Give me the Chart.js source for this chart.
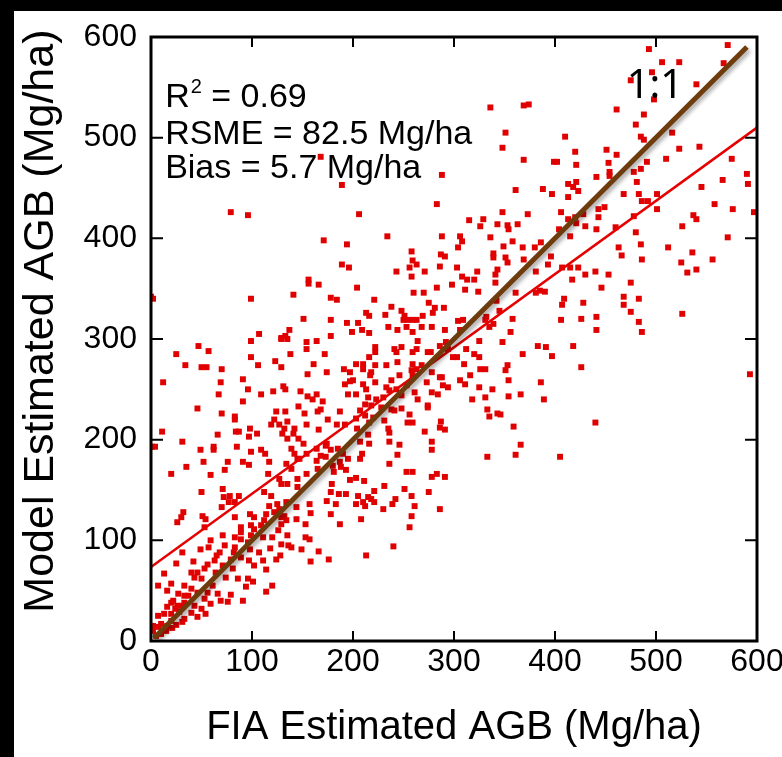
<!DOCTYPE html>
<html>
<head>
<meta charset="utf-8">
<title>Model vs FIA AGB</title>
<script src="https://cdn.jsdelivr.net/npm/chart.js@4.4.1/dist/chart.umd.min.js"></script>
<style>
  html, body { margin: 0; padding: 0; background: #000; }
  #frame { position: absolute; left: 14px; top: 11px; width: 768px; height: 746px; background: #fff; }
</style>
</head>
<body>
<div id="frame"><canvas id="agbChart" width="768" height="746"></canvas></div>
<script>
// plot samples: [FIA AGB, model AGB] in Mg/ha
const plots = [
  [493,588],[506,575],[523,575],[571,592],[567,574],[496,565],[475,557],[540,553],[498,538],[461,528],
  [488,523],[480,513],[410,501],[485,501],[488,498],[516,505],[420,486],[451,488],[461,483],[543,491],
  [523,489],[402,476],[421,473],[453,475],[491,476],[510,479],[575,479],[454,466],[454,462],[441,461],
  [478,466],[485,469],[413,454],[421,456],[418,451],[423,447],[481,456],[566,458],[590,464],[591,454],
  [413,441],[468,444],[483,444],[501,444],[545,451],[486,437],[492,437],[558,434],[406,426],[443,429],
  [449,431],[501,429],[576,429],[597,426],[413,419],[420,421],[428,424],[443,421],[478,422],[537,423],
  [540,419],[404,409],[421,415],[430,412],[441,409],[460,411],[526,412],[415,402],[480,406],[571,401],
  [463,391],[485,394],[512,391],[536,386],[466,383],[486,379],[556,379],[525,376],[407,371],[415,371],
  [423,371],[417,359],[430,364],[440,367],[453,364],[531,366],[540,369],[475,356],[446,351],[409,340],
  [468,342],[483,340],[407,334],[428,336],[468,334],[475,327],[526,325],[406,319],[426,320],[441,322],
  [483,317],[441,309],[486,307],
  [418,293],[426,272],[593,265],[440,217],[405,183],
  [336,530],[369,532],[374,533],[351,505],[348,490],[369,478],[399,476],[288,463],[361,448],[388,449],
  [397,444],[206,424],[283,434],[348,426],[373,424],[315,418],[329,419],[326,412],[343,414],[353,413],
  [354,409],[363,414],[234,402],[288,402],[306,402],[308,397],[336,401],[358,397],[349,392],[304,391],
  [368,391],[380,391],[386,396],[258,387],[287,384],[291,382],[339,385],[339,381],[351,381],[353,376],
  [369,379],[396,382],[259,378],[263,374],[256,371],[286,372],[303,371],[343,369],[341,364],[381,367],
  [393,374],[243,367],[271,367],[258,362],[308,362],[323,367],[313,359],[320,359],[298,354],[341,356],
  [283,351],[311,349],[324,347],[361,346],[381,346],[204,351],[221,339],[260,346],[270,346],[275,336],
  [238,332],[290,331],[281,331],[248,328],[213,326],[216,323],[232,324],[251,323],[269,323],[279,326],
  [250,319],[254,319],[259,319],[263,319],[205,316],[304,318],[309,319],[331,319],[358,320],[235,312],
  [253,312],[268,312],[278,312],[209,309],[216,306],[244,309],[259,307],[291,309],[356,307],[306,309],
  [335,312],[342,338],[345,328],[332,322],[339,315],[385,348],[390,347],
  [168,481],[189,453],[79,426],[96,423],[171,398],[194,394],[189,374],[196,371],[156,359],[156,355],
  [166,354],[2,340],[99,340],[141,344],[178,341],[184,339],[151,320],[178,319],[194,316],[199,307],
  [107,305],[137,309],[129,301],[133,303],[178,303],[0,342],[1,193],
  [47,293],[57,288],[25,285],[99,298],[129,300],[135,300],[154,297],[164,298],[154,290],[172,285],
  [138,285],[99,282],[106,274],[123,278],[129,272],[161,275],[34,274],[50,272],[55,272],[70,270],
  [155,265],[174,267],[191,270],[197,267],[12,257],[69,257],[91,260],[192,255],[197,258],[131,253],
  [96,250],[121,248],[133,250],[148,248],[67,245],[109,245],[155,243],[164,245],[91,238],[160,240],
  [170,238],[195,245],[46,231],[146,233],[70,226],[124,228],[133,228],[152,226],[165,228],[168,230],
  [187,228],[83,223],[83,220],[122,220],[135,218],[175,220],[119,215],[127,215],[154,215],[184,215],
  [98,211],[132,211],[142,211],[166,210],[11,208],[84,208],[87,208],[105,206],[130,206],[141,206],
  [192,215],[66,205],[97,203],[135,201],[146,201],[31,198],[4,193],[62,193],[85,193],[151,196],
  [174,196],[49,190],[62,190],[99,188],[109,190],[113,186],[139,191],[142,186],[164,191],[178,190],
  [154,186],[52,178],[76,178],[91,178],[97,175],[117,178],[147,181],[164,179],[173,183],[187,178],
  [35,173],[73,170],[20,166],[59,165],[116,166],[154,166],[181,168],[193,170],[135,156],[145,161],
  [129,156],[179,156],[197,160],[71,151],[50,148],[145,153],[178,148],[186,146],[193,146],[72,143],
  [78,144],[87,144],[77,138],[83,138],[112,148],[117,134],[125,136],[134,138],[144,133],[157,136],
  [174,139],[183,136],[70,133],[32,128],[51,124],[30,123],[26,118],[54,121],[83,123],[98,126],
  [102,123],[114,126],[122,128],[129,123],[134,120],[144,121],[158,127],[178,126],[187,116],[153,116],
  [129,116],[99,115],[109,115],[89,113],[53,113],[83,103],[71,105],[59,100],[89,101],[99,105],
  [111,103],[120,103],[126,110],[135,105],[136,95],[153,103],[157,101],[129,96],[139,93],[149,91],
  [166,89],[176,81],[158,79],[128,85],[118,92],[98,91],[107,88],[49,91],[57,93],[65,85],
  [73,95],[82,88],[89,83],[31,88],[25,77],[42,79],[53,72],[63,80],[71,75],[81,72],
  [97,80],[102,75],[111,80],[114,71],[124,81],[40,68],[13,67],[20,57],[33,55],[43,63],
  [50,62],[61,55],[74,63],[86,62],[96,62],[101,59],[94,54],[120,55],[114,49],[7,55],
  [16,50],[27,47],[37,45],[46,48],[53,42],[66,47],[79,46],[91,40],[69,40],[76,39],
  [22,40],[33,38],[16,34],[24,32],[30,35],[43,35],[50,32],[59,37],[7,25],[13,27],
  [20,27],[28,29],[40,28],[33,22],[20,20],[46,24],[54,27],[10,17],[16,15],[25,16],
  [31,19],[2,15],[2,10],[7,14],[15,10],[21,13],[10,7],[5,5],
  [145,181],[168,184],[173,194],[185,191],[180,174],[188,173],[195,181],[190,186],[165,171],[134,176],
  [139,171],[127,161],[119,144],[127,131],[132,124],[112,120],[102,111],[89,108],[96,98],[83,93],
  [79,81],[68,88],[56,76],[64,68],[46,68],[40,52],[56,48],[33,45],[26,35],[20,38],
  [222,292],[222,287],[241,290],[248,292],[264,298],[243,287],[259,287],[263,290],[274,287],[277,287],
  [286,293],[292,297],[294,290],[299,282],[303,282],[312,290],[320,285],[325,282],[325,298],[348,297],
  [368,285],[383,293],[391,292],[397,283],[203,275],[210,275],[216,282],[222,274],[233,274],[244,277],
  [259,275],[268,274],[258,269],[263,270],[218,267],[210,270],[217,264],[200,259],[222,257],[238,259],
  [246,264],[259,264],[278,267],[286,262],[288,262],[273,257],[310,275],[316,264],[326,270],[331,270],
  [351,269],[353,274],[354,259],[386,257],[306,259],[311,255],[325,252],[338,250],[294,252],[289,254],
  [210,255],[213,250],[233,252],[243,250],[253,254],[261,247],[278,247],[284,245],[236,249],[203,245],
  [215,242],[223,240],[230,242],[248,244],[264,240],[274,234],[274,232],[318,240],[331,242],[354,243],
  [366,245],[389,240],[212,235],[218,234],[207,229],[228,232],[238,230],[241,229],[248,231],[333,230],
  [335,223],[343,226],[346,225],[212,224],[220,222],[203,221],[216,217],[231,219],[256,225],[254,217],
  [259,217],[287,218],[286,212],[291,210],[271,208],[359,213],[204,211],[235,211],[236,207],[215,205],
  [207,198],[216,196],[236,198],[246,195],[278,198],[278,190],[366,195],[209,186],[207,181],[244,185],
  [236,176],[333,183],[361,185],[253,168],[259,168],[278,163],[283,166],[291,163],[203,162],[211,159],
  [231,154],[251,151],[221,149],[205,144],[215,143],[218,141],[242,141],[258,144],[275,148],[203,136],
  [210,138],[212,134],[221,138],[239,136],[261,134],[230,131],[286,131],[208,121],[258,124],[256,113],
  [240,94],[213,85]
];
const fiaAgb = plots.map(p => p[0]);
const modelAgb = plots.map(p => p[1]);

const axisTicks = [0, 100, 200, 300, 400, 500, 600];
const fitX = [0, 600];        // red least-squares line
const fitY = [73.5, 510];
const oneToOne = [3, 590];    // 1:1 line ends

const statsText = ["RSME = 82.5 Mg/ha", "Bias = 5.7 Mg/ha"];

const font = "Liberation Sans, Arial, Helvetica, sans-serif";

const framePlugin = {
    id: "frame",
    afterDatasetsDraw(chart) {
        const { ctx, chartArea: a, scales: { x, y } } = chart;
        ctx.save();
        ctx.strokeStyle = "#000";
        ctx.lineWidth = 2;
        ctx.beginPath();
        axisTicks.slice(1, -1).forEach(v => {
            const px = x.getPixelForValue(v);
            const py = y.getPixelForValue(v);
            ctx.moveTo(px, a.bottom); ctx.lineTo(px, a.bottom - 10);
            ctx.moveTo(px, a.top); ctx.lineTo(px, a.top + 10);
            ctx.moveTo(a.left, py); ctx.lineTo(a.left + 12, py);
            ctx.moveTo(a.right, py); ctx.lineTo(a.right - 12, py);
        });
        ctx.stroke();
        ctx.lineWidth = 3;
        ctx.strokeRect(a.left, a.top, a.right - a.left, a.bottom - a.top);
        ctx.restore();
    }
};

// shadow under the 1:1 line
const shadowPlugin = {
    id: "lineShadow",
    beforeDatasetDraw(chart, args) {
        if (args.index !== 0) return;
        const ctx = chart.ctx;
        ctx.save();
        ctx.shadowColor = "rgba(0,0,0,0.35)";
        ctx.shadowBlur = 4;
        ctx.shadowOffsetX = 2;
        ctx.shadowOffsetY = 3;
    },
    afterDatasetDraw(chart, args) {
        if (args.index !== 0) return;
        chart.ctx.restore();
    }
};

const textPlugin = {
    id: "stats",
    afterDraw(chart) {
        const { ctx, scales: { x, y } } = chart;
        ctx.save();
        ctx.fillStyle = "#000";
        ctx.textBaseline = "alphabetic";
        ctx.textAlign = "left";
        const left = x.getPixelForValue(14);
        let base = y.getPixelForValue(530);
        ctx.font = "34px " + font;
        ctx.fillText("R", left, base);
        let w = ctx.measureText("R").width;
        ctx.font = "20px " + font;
        ctx.fillText("2", left + w + 1, base - 14);
        w += ctx.measureText("2").width + 1;
        ctx.font = "34px " + font;
        ctx.fillText(" = 0.69", left + w, base);
        statsText.forEach((t, i) => {
            ctx.fillText(t, left, y.getPixelForValue(494 - i * 34));
        });
        ctx.font = "40px 'Noto Sans', 'Open Sans', sans-serif";
        ctx.fillText("1:1", x.getPixelForValue(471), y.getPixelForValue(539));
        ctx.restore();
    }
};

new Chart(document.getElementById("agbChart"), {
    type: "scatter",
    data: {
        datasets: [
            {
                label: "1:1",
                data: oneToOne.map(v => ({ x: v, y: v })),
                showLine: true,
                borderColor: "#6e3c0c",
                borderWidth: 5,
                pointRadius: 0,
                borderCapStyle: "butt"
            },
            {
                label: "fit",
                data: fitX.map((v, i) => ({ x: v, y: fitY[i] })),
                showLine: true,
                borderColor: "#e60000",
                borderWidth: 2.5,
                pointRadius: 0
            },
            {
                label: "plots",
                data: fiaAgb.map((v, i) => ({ x: v, y: modelAgb[i] })),
                pointStyle: "rect",
                pointRadius: 4.2,
                pointBorderWidth: 0,
                backgroundColor: "#e00000",
                borderColor: "#e00000"
            }
        ]
    },
    options: {
        responsive: false,
        animation: false,
        layout: { padding: { top: 26, right: 25, left: 0, bottom: 0 } },
        plugins: { legend: { display: false }, tooltip: { enabled: false } },
        scales: {
            x: {
                type: "linear",
                min: 0,
                max: 600,
                afterBuildTicks(s) { s.ticks = axisTicks.map(v => ({ value: v })); },
                afterFit(s) { s.height = 116; s.paddingLeft = 0; s.paddingRight = 0; },
                grid: { display: false, drawTicks: false },
                border: { display: false },
                ticks: { font: { family: font, size: 32 }, color: "#000", padding: 2, maxRotation: 0, autoSkip: false },
                title: { display: true, text: "FIA Estimated AGB (Mg/ha)", color: "#000",
                         font: { family: font, size: 40 }, padding: { top: 0, bottom: 5 } }
            },
            y: {
                type: "linear",
                min: 0,
                max: 600,
                afterBuildTicks(s) { s.ticks = axisTicks.map(v => ({ value: v })); },
                afterFit(s) { s.width = 137; s.paddingTop = 0; s.paddingBottom = 0; },
                grid: { display: false, drawTicks: false },
                border: { display: false },
                ticks: { font: { family: font, size: 32 }, color: "#000", padding: 14, autoSkip: false },
                // leading spaces nudge the title up, as in the original
                title: { display: true, text: "   Model Estimated AGB (Mg/ha)", color: "#000",
                         font: { family: font, size: 43 }, padding: { top: 1, bottom: 0 } }
            }
        }
    },
    plugins: [shadowPlugin, framePlugin, textPlugin]
});
</script>
</body>
</html>
